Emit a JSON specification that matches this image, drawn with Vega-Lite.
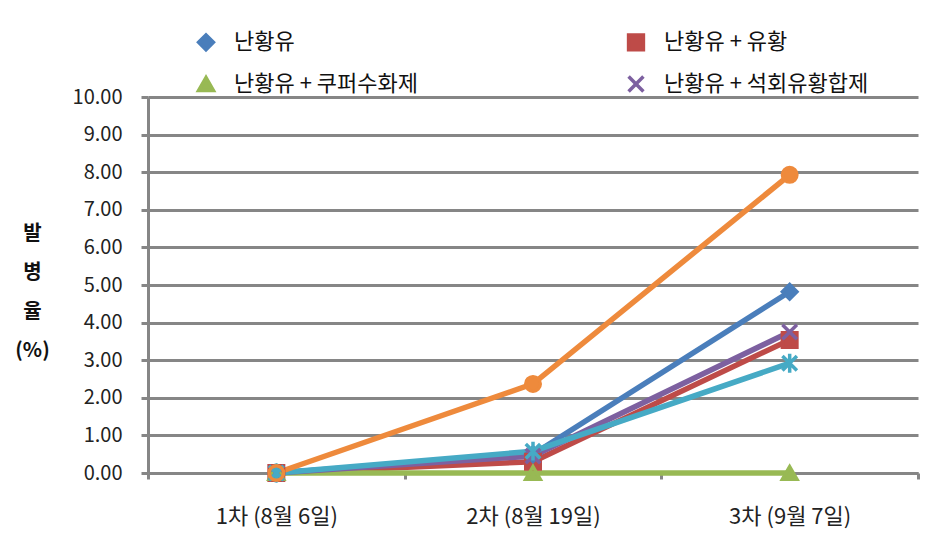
{
  "$schema": "https://vega.github.io/schema/vega-lite/v6.json",
  "width": 770,
  "height": 376,
  "autosize": {"type": "none"},
  "padding": {"left": 148, "top": 97, "right": 15, "bottom": 66},
  "background": "white",
  "config": {
    "view": {"stroke": null},
    "font": "Noto Sans CJK KR"
  },
  "data": {
    "values": [
      {"series": "난황유", "stage": "1차 (8월 6일)", "value": 0},
      {"series": "난황유", "stage": "2차 (8월 19일)", "value": 0.5},
      {"series": "난황유", "stage": "3차 (9월 7일)", "value": 4.82},
      {"series": "난황유 + 유황", "stage": "1차 (8월 6일)", "value": 0},
      {"series": "난황유 + 유황", "stage": "2차 (8월 19일)", "value": 0.3},
      {"series": "난황유 + 유황", "stage": "3차 (9월 7일)", "value": 3.54},
      {"series": "난황유 + 쿠퍼수화제", "stage": "1차 (8월 6일)", "value": 0},
      {"series": "난황유 + 쿠퍼수화제", "stage": "2차 (8월 19일)", "value": 0},
      {"series": "난황유 + 쿠퍼수화제", "stage": "3차 (9월 7일)", "value": 0},
      {"series": "난황유 + 석회유황합제", "stage": "1차 (8월 6일)", "value": 0},
      {"series": "난황유 + 석회유황합제", "stage": "2차 (8월 19일)", "value": 0.45},
      {"series": "난황유 + 석회유황합제", "stage": "3차 (9월 7일)", "value": 3.75},
      {"series": "난황유 + 보르도액", "stage": "1차 (8월 6일)", "value": 0},
      {"series": "난황유 + 보르도액", "stage": "2차 (8월 19일)", "value": 0.58},
      {"series": "난황유 + 보르도액", "stage": "3차 (9월 7일)", "value": 2.92},
      {"series": "무처리", "stage": "1차 (8월 6일)", "value": 0},
      {"series": "무처리", "stage": "2차 (8월 19일)", "value": 2.37},
      {"series": "무처리", "stage": "3차 (9월 7일)", "value": 7.93}
    ]
  },
  "encoding": {
    "x": {
      "field": "stage",
      "type": "nominal",
      "sort": null,
      "scale": {"paddingInner": 0, "paddingOuter": 0},
      "axis": {
        "title": null,
        "labelAngle": 0,
        "labelFontSize": 22,
        "labelColor": "#222222",
        "labelPadding": 27,
        "tickBand": "extent",
        "tickSize": 6,
        "tickWidth": 3,
        "tickColor": "#868686",
        "domainColor": "#868686",
        "domainWidth": 3,
        "grid": false
      }
    },
    "y": {
      "field": "value",
      "type": "quantitative",
      "scale": {"domain": [0, 10], "nice": false},
      "axis": {
        "values": [0, 1, 2, 3, 4, 5, 6, 7, 8, 9, 10],
        "format": ".2f",
        "labelFontSize": 20,
        "labelColor": "#222222",
        "labelPadding": 19,
        "tickSize": 7,
        "tickWidth": 3,
        "tickColor": "#868686",
        "domainColor": "#868686",
        "domainWidth": 3,
        "grid": true,
        "gridColor": "#868686",
        "gridWidth": 3,
        "title": ["발", "병", "율", "(%)"],
        "titleAngle": 0,
        "titleFontSize": 20,
        "titleFontWeight": "bold",
        "titleColor": "#111111",
        "titleLineHeight": 39,
        "titleAlign": "center",
        "titleBaseline": "top",
        "titleX": -116,
        "titleY": 126
      }
    }
  },
  "layer": [
    {
      "mark": {"type": "line", "strokeWidth": 5.5},
      "encoding": {
        "stroke": {
          "field": "series",
          "type": "nominal",
          "sort": null,
          "scale": {
            "domain": ["난황유", "난황유 + 유황", "난황유 + 쿠퍼수화제", "난황유 + 석회유황합제", "난황유 + 보르도액", "무처리"],
            "range": ["#4A7EBB", "#BE4B48", "#98B954", "#7D60A0", "#46AAC5", "#EE8A3C"]
          },
          "legend": {
            "values": ["난황유", "난황유 + 유황", "난황유 + 쿠퍼수화제", "난황유 + 석회유황합제"],
            "title": null,
            "orient": "none",
            "direction": "horizontal",
            "legendX": 47,
            "legendY": -66,
            "columns": 2,
            "columnPadding": 203,
            "rowPadding": 12,
            "symbolSize": 220,
            "symbolStrokeWidth": 3.5,
            "labelOffset": 17,
            "labelFontSize": 22,
            "labelColor": "#111111",
            "labelLimit": 400
          }
        }
      }
    },
    {
      "mark": {"type": "point", "filled": true, "size": 270, "opacity": 1},
      "encoding": {
        "color": {
          "field": "series",
          "type": "nominal",
          "sort": null,
          "legend": null,
          "scale": {
            "domain": ["난황유", "난황유 + 유황", "난황유 + 쿠퍼수화제", "난황유 + 석회유황합제", "난황유 + 보르도액", "무처리"],
            "range": ["#4A7EBB", "#BE4B48", "#98B954", "#7D60A0", "#46AAC5", "#EE8A3C"]
          }
        },
        "shape": {
          "field": "series",
          "type": "nominal",
          "sort": null,
          "legend": null,
          "scale": {
            "domain": ["난황유", "난황유 + 유황", "난황유 + 쿠퍼수화제", "난황유 + 석회유황합제", "난황유 + 보르도액", "무처리"],
            "range": ["diamond", "square", "triangle-up", "M-1,-1L1,1M-1,1L1,-1", "M-1,-1L1,1M-1,1L1,-1M0,-1.3L0,1.3", "circle"]
          }
        }
      }
    },
    {
      "mark": {"type": "point", "filled": false, "size": 210, "strokeWidth": 3.5, "opacity": 1},
      "encoding": {
        "color": {"field": "series", "type": "nominal", "sort": null, "legend": null},
        "shape": {"field": "series", "type": "nominal", "sort": null, "legend": null}
      }
    }
  ]
}
